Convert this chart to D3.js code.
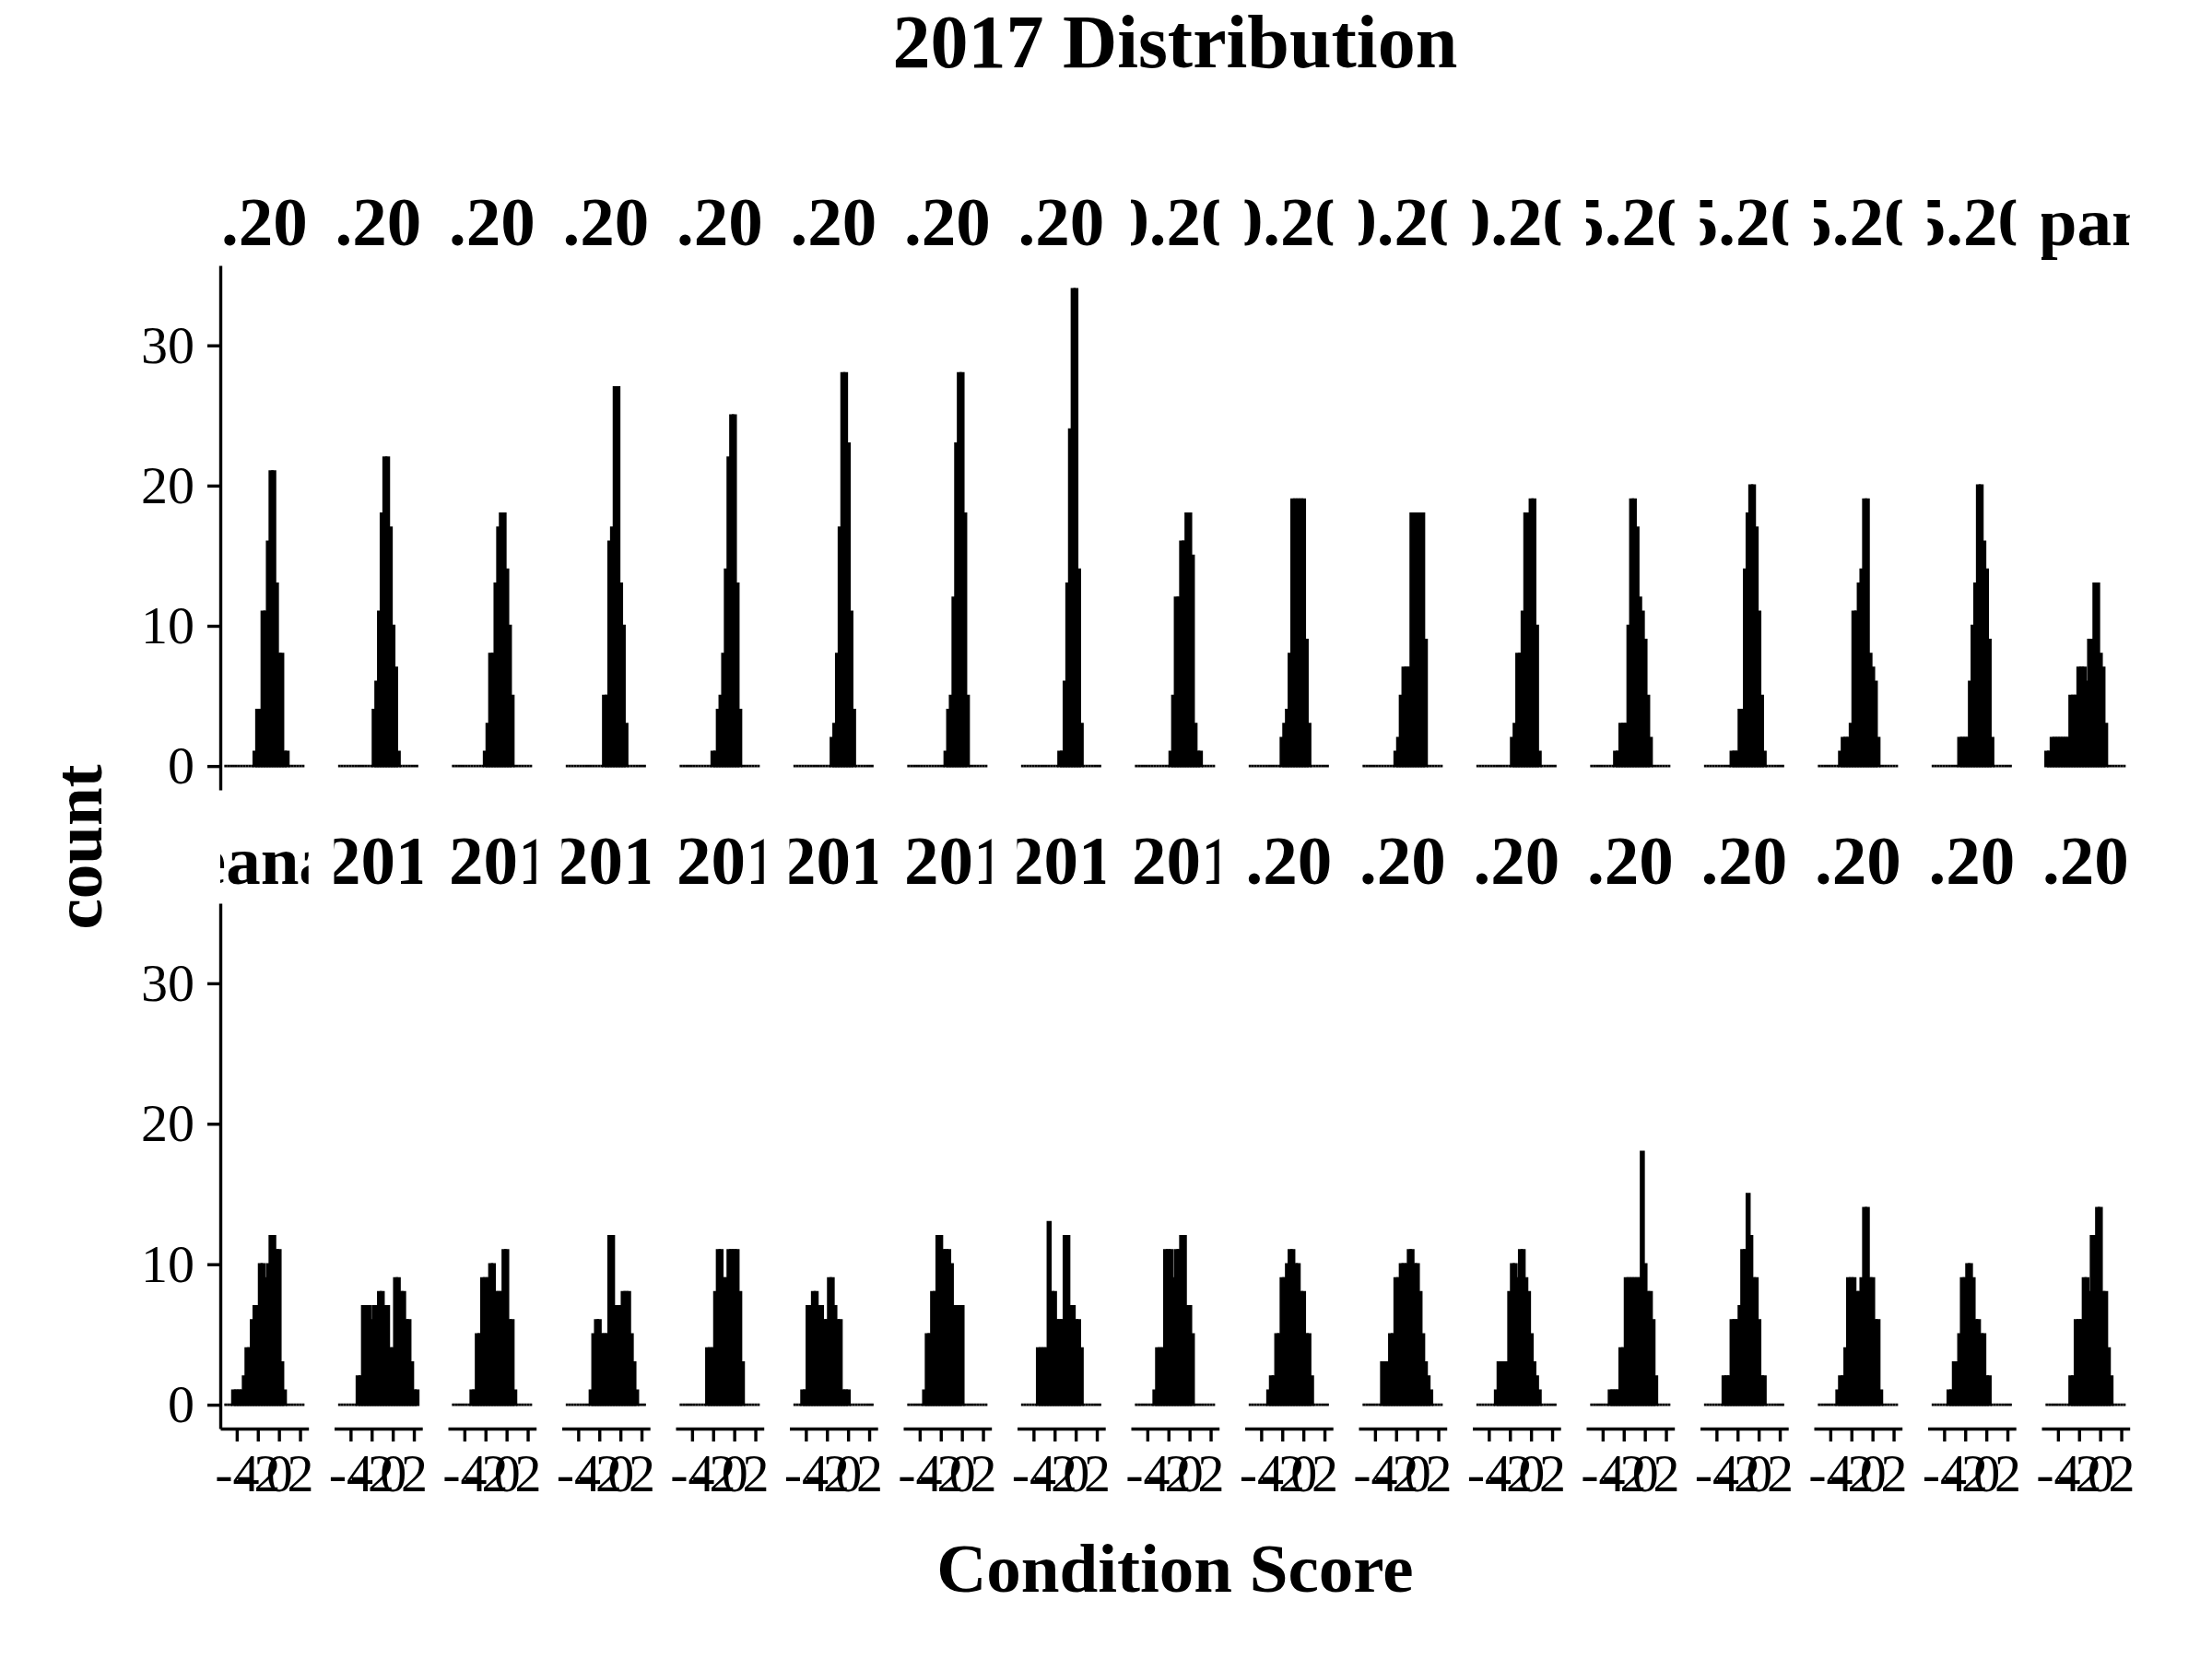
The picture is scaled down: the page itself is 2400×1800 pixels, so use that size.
<!DOCTYPE html>
<html><head><meta charset="utf-8">
<script src="https://cdn.jsdelivr.net/npm/d3@7"></script>
<style>
body{margin:0;background:#fff}
text{font-family:"Liberation Serif","Times New Roman",serif;fill:#000}
</style></head>
<body><svg id="c" width="2400" height="1800"></svg>
<script>
// ---------------- data ----------------
const chartTitle = "2017 Distribution";
const xTitle = "Condition Score";
const yTitle = "count";
const xTicks = [-4, -2, 0, 2];
const yTicks = [0, 10, 20, 30];
const binMin = -5.18, binMax = 2.42, binCount = 30;
const yMaxCount = 34;

const topLabels = [".20", ".20", ".20", ".20", ".20", ".20", ".20", ".20",
  "0.20", "0.20", "0.20", "0.20", "5.20", "5.20", "5.20", "5.20", ".pan"];
const bottomLabels = ["eana", "201", ".201", "201", ".201", "201", ".201", "201", ".201",
  ".20", ".20", ".20", ".20", ".20", ".20", ".20", ".20"];

const t01 = [0,0,0,0,0,0,0,0,0,0,0,1,4,4,11,11,16,21,21,13,8,8,1,1,0,0,0,0,0,0];
const t02 = [0,0,0,0,0,0,0,0,0,0,0,0,0,4,6,11,18,22,22,17,10,7,1,0,0,0,0,0,0,0];
const t03 = [0,0,0,0,0,0,0,0,0,0,0,0,1,3,8,8,13,17,18,18,14,10,5,0,0,0,0,0,0,0];
const t04 = [0,0,0,0,0,0,0,0,0,0,0,0,0,0,5,5,16,17,27,27,13,10,3,0,0,0,0,0,0,0];
const t05 = [0,0,0,0,0,0,0,0,0,0,0,0,1,1,4,5,8,14,22,25,25,13,4,0,0,0,0,0,0,0];
const t06 = [0,0,0,0,0,0,0,0,0,0,0,0,0,0,2,3,8,17,28,28,23,11,4,0,0,0,0,0,0,0];
const t07 = [0,0,0,0,0,0,0,0,0,0,0,0,0,0,1,4,5,12,23,28,28,18,5,0,0,0,0,0,0,0];
const t08 = [0,0,0,0,0,0,0,0,0,0,0,0,0,0,1,1,6,13,24,34,34,14,3,0,0,0,0,0,0,0];
const t09 = [0,0,0,0,0,0,0,0,0,0,0,0,0,1,5,12,12,16,16,18,18,15,3,1,1,0,0,0,0,0];
const t10 = [0,0,0,0,0,0,0,0,0,0,0,0,2,3,4,8,19,19,19,19,19,9,3,0,0,0,0,0,0,0];
const t11 = [0,0,0,0,0,0,0,0,0,0,0,0,1,2,5,7,7,7,18,18,18,18,18,9,0,0,0,0,0,0];
const t12 = [0,0,0,0,0,0,0,0,0,0,0,0,0,2,3,8,8,11,18,18,19,19,10,1,0,0,0,0,0,0];
const t13 = [0,0,0,0,0,0,0,0,0,1,1,3,3,3,10,19,19,17,12,11,9,5,2,0,0,0,0,0,0,0];
const t14 = [0,0,0,0,0,0,0,0,0,0,1,1,1,4,4,14,18,20,20,17,11,5,1,0,0,0,0,0,0,0];
const t15 = [0,0,0,0,0,0,0,0,1,2,2,2,3,11,11,13,14,19,19,8,7,6,2,0,0,0,0,0,0,0];
const t16 = [0,0,0,0,0,0,0,0,0,0,2,2,2,2,6,10,13,20,20,16,14,9,2,0,0,0,0,0,0,0];
const t17 = [1,1,2,2,2,2,2,2,2,5,5,5,7,7,7,6,9,9,13,13,8,7,3,0,0,0,0,0,0,0];

const b01 = [0,0,0,1,1,1,1,2,4,4,6,7,7,10,10,9,10,12,12,11,11,3,1,0,0,0,0,0,0,0];
const b02 = [0,0,0,0,0,0,0,2,2,7,7,7,6,7,7,8,8,7,7,4,4,9,9,8,8,6,6,3,1,1];
const b03 = [0,0,0,0,0,0,0,1,1,5,5,9,9,9,10,10,8,8,8,11,11,6,6,1,0,0,0,0,0,0];
const b04 = [0,0,0,0,0,0,0,0,0,1,5,6,6,5,5,5,12,12,7,7,7,8,8,8,5,3,1,0,0,0];
const b05 = [0,0,0,0,0,0,0,0,0,0,4,4,4,8,11,11,9,9,11,11,11,11,8,3,0,0,0,0,0,0];
const b06 = [0,0,0,1,1,7,7,8,8,7,7,6,6,9,9,7,6,6,1,1,1,0,0,0,0,0,0,0,0,0];
const b07 = [0,0,0,0,0,0,1,5,5,8,8,12,12,11,11,11,10,7,7,7,7,0,0,0,0,0,0,0,0,0];
const b08 = [0,0,0,0,0,0,4,4,4,4,13,8,8,6,6,6,12,12,7,7,6,6,4,0,0,0,0,0,0,0];
const b09 = [0,0,0,0,0,0,0,1,4,4,4,11,11,11,9,11,11,12,12,7,7,5,0,0,0,0,0,0,0,0];
const b10 = [0,0,0,0,0,0,0,1,2,2,5,5,9,9,10,11,11,10,10,8,8,5,5,2,0,0,0,0,0,0];
const b11 = [0,0,0,0,0,0,0,3,3,3,5,5,9,9,10,10,10,11,11,10,10,8,5,3,2,1,0,0,0,0];
const b12 = [0,0,0,0,0,0,0,1,3,3,3,3,8,10,10,9,11,11,9,8,5,3,2,1,0,0,0,0,0,0];
const b13 = [0,0,0,0,0,0,0,1,1,1,1,4,4,9,9,9,9,9,9,18,10,8,8,6,2,0,0,0,0,0];
const b14 = [0,0,0,0,0,0,0,2,2,2,6,6,6,7,11,11,15,12,9,9,6,2,2,0,0,0,0,0,0,0];
const b15 = [0,0,0,0,0,0,0,1,2,2,4,9,9,9,8,8,9,14,14,9,9,6,6,1,0,0,0,0,0,0];
const b16 = [0,0,0,0,0,0,1,1,3,3,5,9,9,10,10,9,6,6,5,5,2,2,0,0,0,0,0,0,0,0];
const b17 = [0,0,0,0,0,0,0,0,0,2,2,6,6,6,9,9,8,12,12,14,14,8,8,4,2,0,0,0,0,0];

const topCounts = [t01,t02,t03,t04,t05,t06,t07,t08,t09,t10,t11,t12,t13,t14,t15,t16,t17];
const bottomCounts = [b01,b02,b03,b04,b05,b06,b07,b08,b09,b10,b11,b12,b13,b14,b15,b16,b17];

// ---------------- layout ----------------
const svg = d3.select("#c");
const panelLeft0 = 239, pitch = 123.5, panelW = 95.7;
const rows = [
  {top: 288, h: 569, labels: topLabels, counts: topCounts, stripBase: 266},
  {top: 980, h: 570, labels: bottomLabels, counts: bottomCounts, stripBase: 959}
];
const span = binMax - binMin;
const xDomain = [binMin - span * 0.05, binMax + span * 0.05];
const yDomain = [-yMaxCount * 0.05, yMaxCount * 1.05];
const binW = span / binCount;
const bins = d3.range(binCount).map(i => [binMin + i * binW, binMin + (i + 1) * binW]);
const defs = svg.append("defs");

rows.forEach((row, ri) => {
  const x = d3.scaleLinear().domain(xDomain).range([0, panelW]);
  const y = d3.scaleLinear().domain(yDomain).range([row.h, 0]);
  row.counts.forEach((cnt, ci) => {
    const px = panelLeft0 + ci * pitch;
    const g = svg.append("g").attr("transform", `translate(${px},${row.top})`);
    const cid = `clip-${ri}-${ci}`;
    defs.append("clipPath").attr("id", cid).append("rect")
      .attr("x", px).attr("y", row.stripBase - 90).attr("width", panelW).attr("height", 110);
    svg.append("g").attr("clip-path", `url(#${cid})`).append("text")
      .attr("x", px + panelW / 2).attr("y", row.stripBase)
      .attr("text-anchor", "middle").attr("font-weight", "bold").attr("font-size", 75)
      .text(row.labels[ci]);
    g.selectAll("path.bar").data(bins.map((b, i) => ({x0: b[0], x1: b[1], c: cnt[i]})))
      .join("path").attr("class", "bar")
      .attr("d", d => `M${x(d.x0)},${y(0)}H${x(d.x1)}V${y(d.c)}H${x(d.x0)}Z`)
      .attr("fill", "#000").attr("stroke", "#000").attr("stroke-width", 2.6);
    if (ci === 0) {
      const ay = g.append("g").call(d3.axisLeft(y).tickValues(yTicks).tickSize(14)
        .tickSizeOuter(0).tickPadding(14).tickFormat(d => String(d)));
      ay.select(".domain").attr("stroke-width", 3.4);
      ay.selectAll(".tick line").attr("stroke-width", 3.4);
      ay.selectAll(".tick text").attr("font-size", 58)
        .style("font-family", '"Liberation Serif","Times New Roman",serif');
    }
    if (ri === 1) {
      const ax = g.append("g").attr("transform", `translate(0,${row.h})`)
        .call(d3.axisBottom(x).tickValues(xTicks).tickSize(14).tickSizeOuter(0)
          .tickPadding(13).tickFormat(d => String(d)));
      ax.select(".domain").attr("stroke-width", 3.4);
      ax.selectAll(".tick line").attr("stroke-width", 3.4);
      ax.selectAll(".tick text").attr("font-size", 58)
        .style("font-family", '"Liberation Serif","Times New Roman",serif');
    }
  });
});

const plotCenter = panelLeft0 + (16 * pitch + panelW) / 2;
svg.append("text").attr("x", plotCenter).attr("y", 73).attr("text-anchor", "middle")
  .attr("font-weight", "bold").attr("font-size", 82).text(chartTitle);
svg.append("text").attr("x", plotCenter).attr("y", 1727).attr("text-anchor", "middle")
  .attr("font-weight", "bold").attr("font-size", 75).text(xTitle);
svg.append("text").attr("transform", `translate(110,919) rotate(-90)`).attr("text-anchor", "middle")
  .attr("font-weight", "bold").attr("font-size", 75).text(yTitle);
</script></body></html>
